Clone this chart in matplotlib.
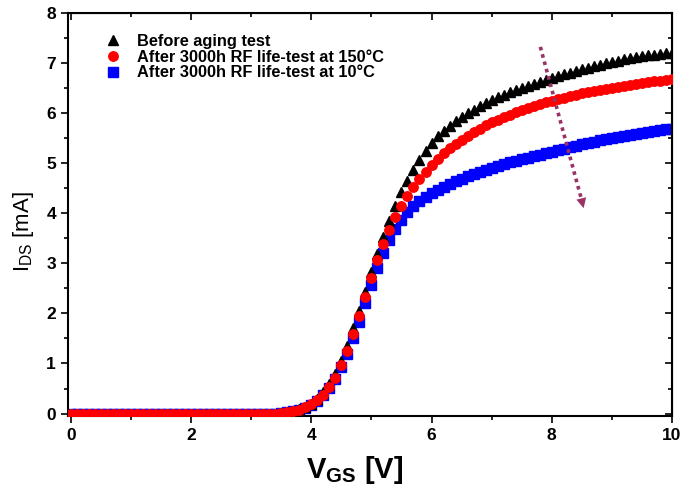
import numpy as np
import matplotlib
matplotlib.use('Agg')
import matplotlib.pyplot as plt
from matplotlib.ticker import MultipleLocator
from matplotlib import font_manager

# gate voltage sweep, 0 to 10 V in 0.1 V steps
vgs = [round(0.1 * i, 1) for i in range(101)]

# I_DS [mA] before aging
ids_before = [0.0] * 35 + [
    0.01, 0.03, 0.06, 0.09, 0.14, 0.20, 0.30, 0.43, 0.60, 0.80,
    1.05, 1.35, 1.70, 2.05, 2.43, 2.82, 3.18, 3.52, 3.85, 4.15,
    4.42, 4.65, 4.87, 5.06, 5.24, 5.40, 5.54, 5.65, 5.75, 5.84,
    5.92, 6.00, 6.07, 6.14, 6.20, 6.26, 6.31, 6.36, 6.41, 6.46,
    6.50, 6.54, 6.58, 6.62, 6.66, 6.70, 6.73, 6.77, 6.80, 6.84,
    6.87, 6.90, 6.93, 6.96, 6.99, 7.02, 7.04, 7.07, 7.09, 7.11,
    7.13, 7.15, 7.16, 7.18, 7.19, 7.20]

# after 3000h RF life-test at 150 C
ids_150 = [0.0] * 35 + [
    0.01, 0.03, 0.05, 0.08, 0.13, 0.19, 0.27, 0.38, 0.53, 0.72,
    0.97, 1.25, 1.58, 1.95, 2.33, 2.71, 3.06, 3.38, 3.67, 3.93,
    4.15, 4.35, 4.52, 4.68, 4.83, 4.97, 5.09, 5.20, 5.30, 5.39,
    5.47, 5.55, 5.62, 5.69, 5.76, 5.82, 5.87, 5.92, 5.97, 6.02,
    6.06, 6.10, 6.14, 6.18, 6.21, 6.24, 6.27, 6.30, 6.33, 6.36,
    6.39, 6.41, 6.44, 6.46, 6.48, 6.50, 6.52, 6.54, 6.56, 6.58,
    6.59, 6.61, 6.63, 6.64, 6.66, 6.67]

# after 3000h RF life-test at 10 C
ids_10 = [0.0] * 35 + [
    0.01, 0.03, 0.05, 0.08, 0.12, 0.18, 0.26, 0.37, 0.51, 0.69,
    0.92, 1.19, 1.50, 1.83, 2.20, 2.56, 2.90, 3.20, 3.46, 3.68,
    3.87, 4.02, 4.14, 4.24, 4.33, 4.40, 4.47, 4.53, 4.59, 4.64,
    4.69, 4.74, 4.79, 4.83, 4.87, 4.91, 4.95, 4.98, 5.02, 5.05,
    5.08, 5.11, 5.14, 5.17, 5.20, 5.23, 5.26, 5.29, 5.32, 5.35,
    5.38, 5.41, 5.43, 5.46, 5.48, 5.50, 5.52, 5.54, 5.56, 5.58,
    5.60, 5.62, 5.64, 5.66, 5.68, 5.69]

labels = ['Before aging test',
          'After 3000h RF life-test at 150°C',
          'After 3000h RF life-test at 10°C']

# arrow showing the drift direction (start, end) in data units
arrow_start = (7.81, 7.32)
arrow_end = (8.53, 4.10)

names = {f.name for f in font_manager.fontManager.ttflist}
narrow = 'Liberation Sans Narrow' if 'Liberation Sans Narrow' in names else 'Liberation Sans'
plt.rcParams['font.family'] = ['Liberation Sans', 'DejaVu Sans']

fig = plt.figure(figsize=(6.85, 4.93), dpi=100)
ax = fig.add_axes([0.099, 0.156, 0.882, 0.818])

h3, = ax.plot(vgs, ids_10, 's', color='#0000ff', ms=7, mec='#0000ff', zorder=2)
h1, = ax.plot(vgs, ids_before, '^', color='black', ms=6.5, zorder=3)
h2, = ax.plot(vgs, ids_150, 'o', color='#ff0000', ms=6.8, zorder=4)

# dotted arrow: shaft then filled head
ax.plot([arrow_start[0], arrow_end[0] - 0.03], [arrow_start[1], arrow_end[1] + 0.15],
        ls=(0, (1, 1.1)), color='#993366', lw=2.6, zorder=5)
ax.annotate('', xy=arrow_end, xytext=(arrow_end[0] - 0.04, arrow_end[1] + 0.2),
            arrowprops=dict(arrowstyle='-|>', mutation_scale=18,
                            color='#993366', lw=0, shrinkA=0, shrinkB=0), zorder=5)

ax.set_xlim(-0.05, 10)
ax.set_ylim(-0.05, 8)
ax.xaxis.set_major_locator(MultipleLocator(2))
ax.xaxis.set_minor_locator(MultipleLocator(1))
ax.yaxis.set_major_locator(MultipleLocator(1))
ax.yaxis.set_minor_locator(MultipleLocator(0.5))
ax.tick_params(which='both', direction='out', width=1.2)
ax.tick_params(which='major', length=5, labelsize=12.5)
ax.tick_params(which='minor', length=3)
for lab in ax.get_xticklabels() + ax.get_yticklabels():
    lab.set_fontweight('bold')
for sp in ax.spines.values():
    sp.set_linewidth(1.5)

# mirrored ticks pointing inwards on top and right
top = ax.secondary_xaxis('top')
top.xaxis.set_major_locator(MultipleLocator(2))
top.xaxis.set_minor_locator(MultipleLocator(1))
top.tick_params(which='both', direction='in', labeltop=False, width=1.2)
top.tick_params(which='major', length=5)
top.tick_params(which='minor', length=3)
right = ax.secondary_yaxis('right')
right.yaxis.set_major_locator(MultipleLocator(1))
right.yaxis.set_minor_locator(MultipleLocator(0.5))
right.tick_params(which='both', direction='in', labelright=False, width=1.2)
right.tick_params(which='major', length=5)
right.tick_params(which='minor', length=3)

ax.set_xlabel(r'V$_{\mathregular{GS}}$ [V]', fontsize=21, family=narrow,
              fontweight='bold')
ax.xaxis.set_label_coords(0.475, -0.095)
ax.set_ylabel(r'I$_{\mathregular{DS}}$ [mA]', fontsize=16, family=narrow)
ax.yaxis.set_label_coords(-0.052, 0.458)

leg = ax.legend([h1, h2, h3], labels, loc='upper left', bbox_to_anchor=(0.061, 0.948),
                frameon=False, prop={'weight': 'bold', 'size': 11.8},
                handletextpad=0.95, labelspacing=0.05, handlelength=1.0,
                borderaxespad=0, borderpad=0)

fig.savefig('out.png', dpi=100)
